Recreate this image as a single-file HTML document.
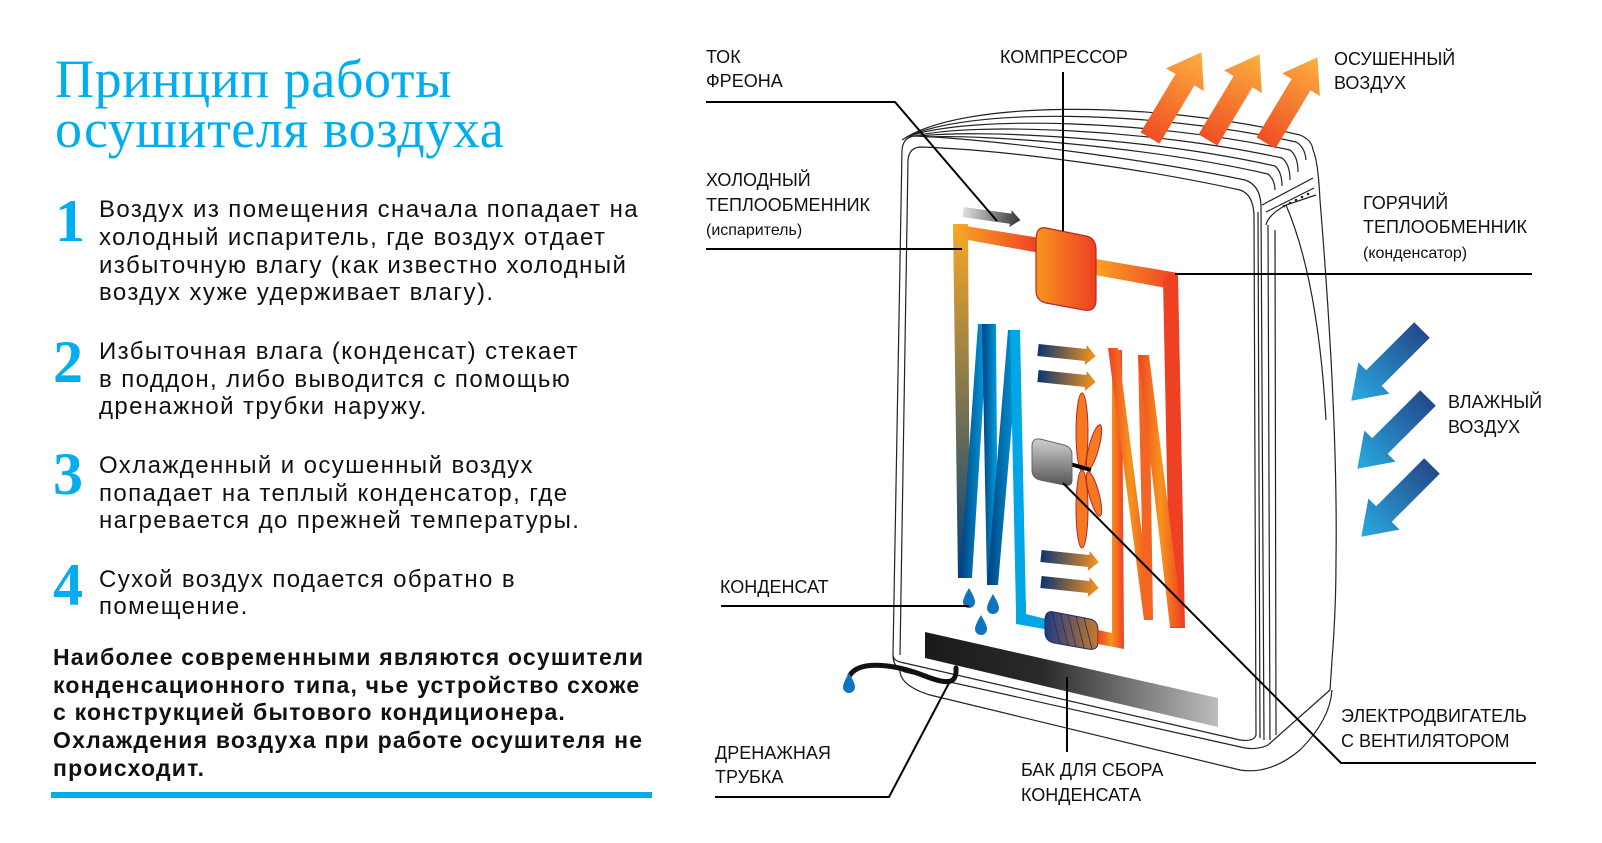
<!DOCTYPE html>
<html><head><meta charset="utf-8"><style>
html,body{margin:0;padding:0;background:#fff;}
body{width:1602px;height:843px;overflow:hidden;position:relative;font-family:"Liberation Sans","DejaVu Sans",sans-serif;}
svg{position:absolute;left:0;top:0;}
</style></head><body>
<svg width="1602" height="843" viewBox="0 0 1602 843" xmlns="http://www.w3.org/2000/svg">
<defs>
<linearGradient id="gL" x1="0" y1="0" x2="0" y2="1"><stop offset="0" stop-color="#f9a825"/><stop offset="0.45" stop-color="#8a7a4a"/><stop offset="1" stop-color="#003f7d"/></linearGradient>
<linearGradient id="gT" x1="0" y1="0" x2="1" y2="0"><stop offset="0" stop-color="#f9a825"/><stop offset="1" stop-color="#ee4023"/></linearGradient>
<linearGradient id="gC" x1="0" y1="0" x2="1" y2="0"><stop offset="0" stop-color="#f7941d"/><stop offset="1" stop-color="#ee4023"/></linearGradient>
<linearGradient id="gB" x1="0" y1="0" x2="1" y2="0"><stop offset="0" stop-color="#003f7d"/><stop offset="1" stop-color="#00a6e6"/></linearGradient>
<linearGradient id="gR" x1="0" y1="0" x2="1" y2="0"><stop offset="0" stop-color="#ee4023"/><stop offset="0.5" stop-color="#f7941d"/><stop offset="1" stop-color="#ee4023"/></linearGradient>
<linearGradient id="gA" x1="0" y1="0" x2="1" y2="0"><stop offset="0" stop-color="#0d3570"/><stop offset="1" stop-color="#f7941d"/></linearGradient>
<linearGradient id="gO" x1="0" y1="0" x2="1" y2="0"><stop offset="0" stop-color="#f04e23"/><stop offset="1" stop-color="#fbb040"/></linearGradient>
<linearGradient id="gBl" x1="0" y1="0" x2="1" y2="0"><stop offset="0" stop-color="#234a8a"/><stop offset="1" stop-color="#29abe2"/></linearGradient>
<linearGradient id="gK" x1="0" y1="0" x2="1" y2="0"><stop offset="0" stop-color="#1a1a1a"/><stop offset="0.4" stop-color="#2a2a2a"/><stop offset="1" stop-color="#bdbdbd"/></linearGradient>
<linearGradient id="gM" x1="0" y1="0" x2="0" y2="1"><stop offset="0" stop-color="#d0d0d0"/><stop offset="1" stop-color="#555"/></linearGradient>
<linearGradient id="gG" x1="0" y1="0" x2="1" y2="0"><stop offset="0" stop-color="#e0e0e0"/><stop offset="1" stop-color="#333"/></linearGradient>
<linearGradient id="gH" x1="0" y1="0" x2="1" y2="0"><stop offset="0" stop-color="#1e3a80"/><stop offset="1" stop-color="#c77a2a"/></linearGradient>
<path id="arr" d="M0,-11 L68,-11 L68,-22 L100,0 L68,22 L68,11 L0,11 Z"/>
<path id="sa" d="M0,-6 L48,-6 L48,-10 L58,0 L48,10 L48,6 L0,6 Z"/>
</defs>

<g fill="none" stroke="#222" stroke-width="1.2">
<path d="M902,140 C960,100 1150,100 1300,135 Q1312,140 1313,150"/>
<path d="M905,138 C965,107 1150,110 1296,142 Q1305,147 1306,160"/>
<path d="M910,136 C970,115 1150,120 1290,150 Q1298,156 1298,172"/>
<path d="M915,136 C975,122 1150,129 1282,158 Q1290,164 1290,180"/>
<path d="M920,136 C980,129 1150,138 1275,166 Q1282,172 1282,186"/>
<path d="M925,137 C985,134 1150,147 1268,174 Q1275,180 1275,190"/>
<path d="M893,655 L902,150 Q903,137 915,136 C1000,140 1150,160 1245,180 Q1260,185 1261,205 L1264,740"/>
<path d="M900,655 L908,160 Q909,148 920,147 C1010,150 1150,170 1240,190 Q1253,194 1254,215 L1256,735 Q1254,742 1240,740 L900,662 Q893,660 893,655"/>
<path d="M1258,212 L1260,738"/>
<path d="M1262,205 L1313,178"/>
<path d="M1266,212 L1314,188"/>
<path d="M1266,225 Q1268,215 1286,205 L1316,195"/>
<path d="M1313,150 Q1318,160 1320,200 Q1338,420 1336,560 Q1336,610 1332,660 L1330,690"/>
<path d="M1268,225 L1270,740"/>
<path d="M1275,230 L1276,735"/>
<path d="M1286,205 Q1318,280 1326,420"/>
<path d="M893,655 Q893,668 905,672 L1245,748 Q1258,750 1268,745 L1330,690"/>
<path d="M900,668 Q898,685 930,695 L1240,770 Q1270,775 1300,750 Q1330,720 1332,690"/>
</g>
<g fill="#222"><circle cx="1284" cy="206" r="1.3"/><circle cx="1290" cy="203" r="1.3"/><circle cx="1296" cy="200" r="1.3"/><circle cx="1302" cy="197" r="1.3"/><circle cx="1308" cy="194" r="1.3"/></g>

<path d="M925,632 L1218,698 L1218,727 L925,658 Z" fill="url(#gK)"/>
<path d="M850,675 C860,660 895,664 925,676 C948,685 957,684 956,668" fill="none" stroke="#111" stroke-width="5" stroke-linecap="round"/>

<path d="M953,224 L968,224 L970,578 L958,578 Z" fill="url(#gL)"/>
<path d="M953,224 L1040,238 L1040,253 L968,240 Z" fill="url(#gT)"/>
<path d="M1090,258 L1178,273 L1177,290 L1090,274 Z" fill="url(#gT)"/>
<path d="M1163,278 L1178,273 L1185,628 L1170,628 Z" fill="#ee4023"/>
<path d="M1046,228 L1086,236 Q1096,238 1096,250 L1096,300 Q1096,312 1084,310 L1046,303 Q1036,301 1036,290 L1036,240 Q1036,226 1046,228 Z" fill="url(#gC)" stroke="#b8262a" stroke-width="1.2"/>

<path d="M960,578 L978,324 L988,324 L972,578 Z" fill="url(#gB)"/>
<path d="M982,324 L996,324 L998,585 L987,585 Z" fill="url(#gB)"/>
<path d="M987,585 L1008,330 L1020,330 L998,585 Z" fill="url(#gB)"/>
<path d="M1010,330 L1020,330 L1026,612 L1016,612 Z" fill="#00a6e6"/>
<path d="M1016,602 L1026,602 L1026,614 L1050,620 L1050,630 L1016,624 Z" fill="#00a6e6"/>
<path d="M1054,612 L1090,619 Q1098,621 1098,630 L1098,642 Q1098,651 1088,649 L1054,643 Q1045,641 1045,632 L1045,620 Q1045,610 1054,612 Z" fill="url(#gH)" stroke="#1e2a70" stroke-width="1"/>
<g stroke="#1e2a70" stroke-width="0.8"><line x1="1052" y1="612" x2="1060" y2="644"/><line x1="1060" y1="613" x2="1068" y2="645"/><line x1="1068" y1="615" x2="1076" y2="647"/><line x1="1076" y1="616" x2="1084" y2="648"/><line x1="1084" y1="618" x2="1092" y2="649"/></g>
<path d="M1098,630 L1112,633 L1112,350 L1122,350 L1124,649 L1098,644 Z" fill="url(#gR)"/>
<path d="M1108,348 L1118,348 L1153,620 L1144,620 Z" fill="url(#gR)"/>
<path d="M1144,620 L1138,355 L1149,355 L1153,620 Z" fill="#f26522"/>
<path d="M1138,355 L1149,355 L1183,627 L1170,627 Z" fill="url(#gR)"/>

<use href="#sa" transform="translate(1038,350) rotate(6)" fill="url(#gA)"/>
<use href="#sa" transform="translate(1038,376) rotate(6)" fill="url(#gA)"/>
<use href="#sa" transform="translate(1041,556) rotate(6)" fill="url(#gA)"/>
<use href="#sa" transform="translate(1041,582) rotate(6)" fill="url(#gA)"/>

<g fill="#f47920" stroke="#b8262a" stroke-width="1">
<ellipse cx="1082" cy="432" rx="6" ry="39"/>
<ellipse cx="1094" cy="447" rx="5" ry="23" transform="rotate(15 1094 447)"/>
<ellipse cx="1082" cy="509" rx="6" ry="39"/>
<ellipse cx="1094" cy="494" rx="5" ry="23" transform="rotate(-15 1094 494)"/>
</g>
<line x1="1070" y1="464" x2="1091" y2="470" stroke="#000" stroke-width="4"/>
<path d="M1040,439 L1064,445 Q1072,447 1072,455 L1072,480 Q1072,487 1064,485 L1040,480 Q1032,478 1032,470 L1032,446 Q1032,438 1040,439 Z" fill="url(#gM)" stroke="#666" stroke-width="1"/>
<use href="#sa" transform="translate(963,212) rotate(8) scale(1,0.85)" fill="url(#gG)"/>

<g fill="#0d75bf">
<path d="M969,588 Q975,598 975,602 A6,6 0 0 1 963,602 Q963,598 969,588 Z"/>
<path d="M993,594 Q999,604 999,608 A6,6 0 0 1 987,608 Q987,604 993,594 Z"/>
<path d="M981,615 Q987,625 987,629 A6,6 0 0 1 975,629 Q975,625 981,615 Z"/>
<path d="M849,673 Q855,683 855,687 A6,6 0 0 1 843,687 Q843,683 849,673 Z"/>
</g>

<use href="#arr" transform="translate(1150,138) rotate(-59)" fill="url(#gO)"/>
<use href="#arr" transform="translate(1208,140) rotate(-59)" fill="url(#gO)"/>
<use href="#arr" transform="translate(1266,143) rotate(-59)" fill="url(#gO)"/>
<use href="#arr" transform="translate(1422,330) rotate(135)" fill="url(#gBl)"/>
<use href="#arr" transform="translate(1428,398) rotate(135)" fill="url(#gBl)"/>
<use href="#arr" transform="translate(1432,466) rotate(135)" fill="url(#gBl)"/>

<g fill="none" stroke="#000" stroke-width="2">
<polyline points="706,102 895,102 997,221"/>
<polyline points="706,249 962,249"/>
<polyline points="1063,72 1063,231"/>
<polyline points="1175,274 1532,274"/>
<polyline points="721,606 969,606"/>
<polyline points="715,797 889,797 949,683"/>
<polyline points="1067,677 1067,752"/>
<polyline points="1536,763 1341,763 1063,483"/>
</g>

<g font-family="'Liberation Sans','DejaVu Sans',sans-serif" font-size="18" fill="#111">
<text x="706" y="63">ТОК</text><text x="706" y="87">ФРЕОНА</text>
<text x="1000" y="63">КОМПРЕССОР</text>
<text x="1334" y="65">ОСУШЕННЫЙ</text><text x="1334" y="89">ВОЗДУХ</text>
<text x="706" y="186">ХОЛОДНЫЙ</text><text x="706" y="211">ТЕПЛООБМЕННИК</text><text x="706" y="235" font-size="16">(испаритель)</text>
<text x="1363" y="209">ГОРЯЧИЙ</text><text x="1363" y="233">ТЕПЛООБМЕННИК</text><text x="1363" y="258" font-size="16">(конденсатор)</text>
<text x="1448" y="408">ВЛАЖНЫЙ</text><text x="1448" y="433">ВОЗДУХ</text>
<text x="720" y="593">КОНДЕНСАТ</text>
<text x="715" y="759">ДРЕНАЖНАЯ</text><text x="715" y="783">ТРУБКА</text>
<text x="1021" y="776">БАК ДЛЯ СБОРА</text><text x="1021" y="801">КОНДЕНСАТА</text>
<text x="1341" y="722">ЭЛЕКТРОДВИГАТЕЛЬ</text><text x="1341" y="747">С ВЕНТИЛЯТОРОМ</text>
</g>

<g font-family="'Liberation Serif','DejaVu Serif',serif" fill="#00aeef">
<text x="55" y="97" font-size="54" letter-spacing="0.6">Принцип работы</text>
<text x="55" y="147" font-size="54" letter-spacing="0.6">осушителя воздуха</text>
<text x="55" y="241" font-size="60" font-weight="bold">1</text>
<text x="53" y="382" font-size="60" font-weight="bold">2</text>
<text x="53" y="494" font-size="60" font-weight="bold">3</text>
<text x="53" y="605" font-size="60" font-weight="bold">4</text>
</g>
<g font-family="'Liberation Sans','DejaVu Sans',sans-serif" font-size="24" fill="#111" letter-spacing="1.4">
<text x="99" y="217">Воздух из помещения сначала попадает на</text>
<text x="99" y="245">холодный испаритель, где воздух отдает</text>
<text x="99" y="273">избыточную влагу (как известно холодный</text>
<text x="99" y="300">воздух хуже удерживает влагу).</text>
<text x="99" y="359">Избыточная влага (конденсат) стекает</text>
<text x="99" y="387">в поддон, либо выводится с помощью</text>
<text x="99" y="414">дренажной трубки наружу.</text>
<text x="99" y="473">Охлажденный и осушенный воздух</text>
<text x="99" y="501">попадает на теплый конденсатор, где</text>
<text x="99" y="528">нагревается  до прежней температуры.</text>
<text x="99" y="587">Сухой воздух подается обратно в</text>
<text x="99" y="614">помещение.</text>
</g>
<g font-family="'Liberation Sans','DejaVu Sans',sans-serif" font-size="23" font-weight="bold" fill="#111" letter-spacing="1.2">
<text x="53" y="665">Наиболее современными являются осушители</text>
<text x="53" y="693">конденсационного типа, чье устройство схоже</text>
<text x="53" y="720">с конструкцией бытового кондиционера.</text>
<text x="53" y="748">Охлаждения воздуха при работе осушителя не</text>
<text x="53" y="776">происходит.</text>
</g>
<rect x="51" y="792" width="601" height="6" fill="#00aeef"/>
</svg>
</body></html>
